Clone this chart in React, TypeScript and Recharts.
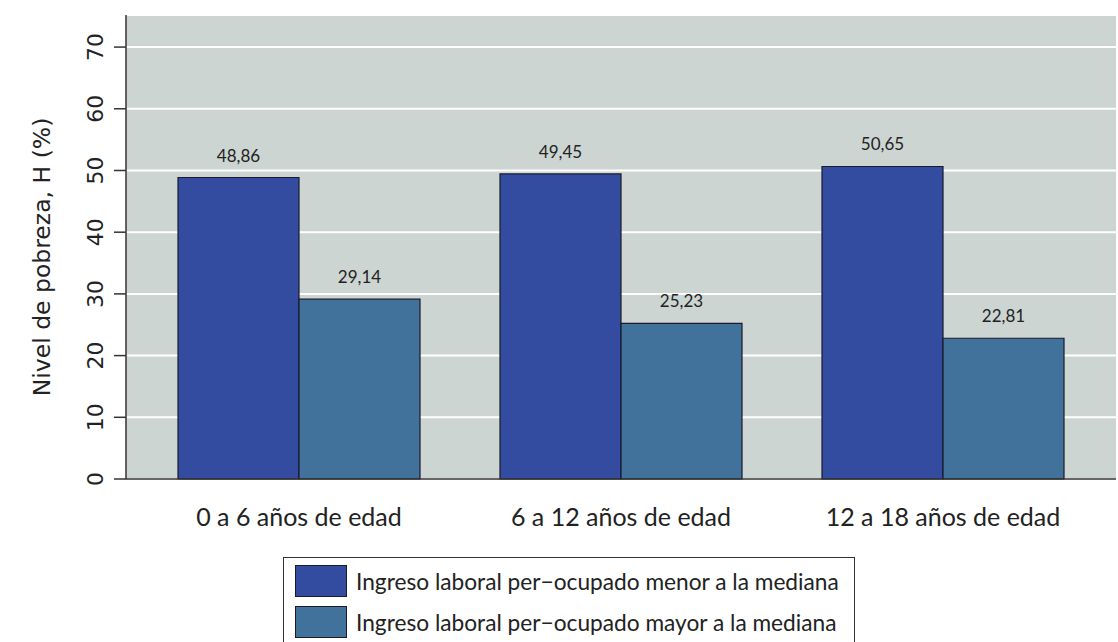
import React from 'react';
import { BarChart, Bar, XAxis, YAxis, CartesianGrid, LabelList, ReferenceArea } from 'recharts';

const categories = ['0 a 6 años de edad', '6 a 12 años de edad', '12 a 18 años de edad'];
const menorValues = [48.86, 49.45, 50.65];
const mayorValues = [29.14, 25.23, 22.81];
const yTicks = [0, 10, 20, 30, 40, 50, 60, 70];

const seriesNames = {
  menor: 'Ingreso laboral per−ocupado menor a la mediana',
  mayor: 'Ingreso laboral per−ocupado mayor a la mediana',
};

const colors = { menor: '#344CA0', mayor: '#41729B', panel: '#CDD5D3', ink: '#222222' };

const data = categories.map((name, i) => ({ name, menor: menorValues[i], mayor: mayorValues[i] }));

const font = 'Lato, "Open Sans", sans-serif';
const axisFont = '"DejaVu Sans", sans-serif';

const fmt = (v: any) => Number(v).toFixed(2).replace('.', ',');

const YTick = (props: any) => {
  const { x, y, payload } = props;
  const tx = x - 9;
  return (
    <text x={tx} y={y} transform={`rotate(-90, ${tx}, ${y})`} textAnchor="middle" fontSize={22} fill={colors.ink} fontFamily={axisFont}>
      {payload.value}
    </text>
  );
};

const XTick = (props: any) => {
  const { x, y, payload } = props;
  return (
    <text x={x} y={y + 39} textAnchor="middle" fontSize={25} fill={colors.ink} fontFamily={font}>
      {payload.value}
    </text>
  );
};

const YLabel = (props: any) => {
  const { viewBox } = props;
  const cx = 42;
  const cy = viewBox.y + viewBox.height / 2 + 10;
  return (
    <text x={cx} y={cy} transform={`rotate(-90, ${cx}, ${cy})`} textAnchor="middle" dominantBaseline="central" fontSize={23.5} fill={colors.ink} fontFamily={axisFont}>
      Nivel de pobreza, H (%)
    </text>
  );
};

const legendItems = [
  { key: 'menor', color: colors.menor, label: seriesNames.menor },
  { key: 'mayor', color: colors.mayor, label: seriesNames.mayor },
];

export default function App() {
  return (
    <div style={{ position: 'absolute', left: 0, top: 0, width: 1118, height: 642, background: '#fff', overflow: 'hidden' }}>
      <BarChart width={1118} height={642} data={data} margin={{ top: 15, right: 2, left: 0, bottom: 0 }} barCategoryGap={40} barGap={0}>
        <CartesianGrid vertical={false} fill={colors.panel} stroke="#ffffff" strokeWidth={2} />
        <XAxis
          dataKey="name"
          height={163}
          padding={{ left: 12, right: 12 }}
          tickLine={false}
          axisLine={{ stroke: '#333', strokeWidth: 1.5 }}
          tick={<XTick />}
        />
        <YAxis
          width={126}
          domain={[0, 75.2]}
          ticks={yTicks}
          tickSize={12}
          tickLine={{ stroke: '#333', strokeWidth: 1.5 }}
          axisLine={{ stroke: '#333', strokeWidth: 1.5 }}
          tick={<YTick />}
          label={<YLabel />}
        />
        <Bar dataKey="menor" fill={colors.menor} stroke="#1a1a2a" strokeWidth={1.2} isAnimationActive={false}>
          <LabelList dataKey="menor" position="top" offset={16} formatter={fmt} fontSize={17} fill={colors.ink} fontFamily={font} />
        </Bar>
        <Bar dataKey="mayor" fill={colors.mayor} stroke="#1a1a2a" strokeWidth={1.2} isAnimationActive={false}>
          <LabelList dataKey="mayor" position="top" offset={16} formatter={fmt} fontSize={17} fill={colors.ink} fontFamily={font} />
        </Bar>
        <ReferenceArea fill="none" stroke="#333" strokeWidth={1.5} ifOverflow="visible" />
      </BarChart>
      <div
        style={{
          position: 'absolute',
          left: 283,
          top: 557,
          width: 572,
          height: 100,
          border: '1.5px solid #333',
          boxSizing: 'border-box',
          fontFamily: font,
          fontSize: 22.7,
          color: colors.ink,
        }}
      >
        {legendItems.map((it, i) => (
          <div key={it.key} style={{ position: 'absolute', left: 11, top: 7 + i * 41, display: 'flex', alignItems: 'center' }}>
            <div style={{ width: 52, height: 32, background: it.color, border: '1.2px solid #1a1a2a', boxSizing: 'border-box' }} />
            <span style={{ marginLeft: 9, whiteSpace: 'nowrap' }}>{it.label}</span>
          </div>
        ))}
      </div>
    </div>
  );
}
